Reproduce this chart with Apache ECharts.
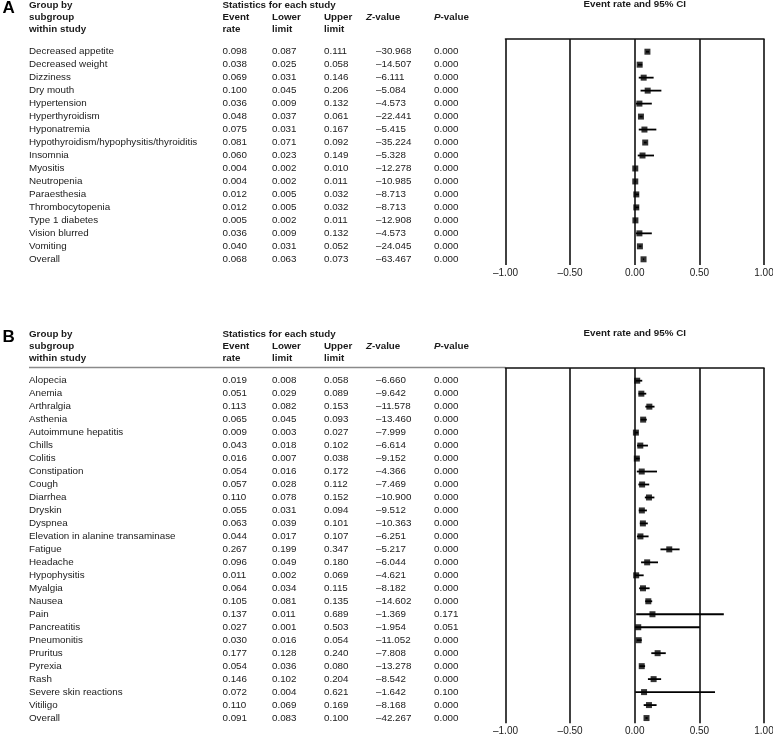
<!DOCTYPE html>
<html><head><meta charset="utf-8">
<script src="https://cdn.jsdelivr.net/npm/echarts@6/dist/echarts.min.js"></script>
<style>html,body{margin:0;padding:0;background:#fff}#c{width:773px;height:737px}</style>
</head><body><div id="c"></div>
<script>
// ---------- Data: panel A ----------
const namesA = ['Decreased appetite','Decreased weight','Dizziness','Dry mouth','Hypertension','Hyperthyroidism','Hyponatremia','Hypothyroidism/hypophysitis/thyroiditis','Insomnia','Myositis','Neutropenia','Paraesthesia','Thrombocytopenia','Type 1 diabetes','Vision blurred','Vomiting','Overall'];
const rateA  = [0.098,0.038,0.069,0.100,0.036,0.048,0.075,0.081,0.060,0.004,0.004,0.012,0.012,0.005,0.036,0.040,0.068];
const lowerA = [0.087,0.025,0.031,0.045,0.009,0.037,0.031,0.071,0.023,0.002,0.002,0.005,0.005,0.002,0.009,0.031,0.063];
const upperA = [0.111,0.058,0.146,0.206,0.132,0.061,0.167,0.092,0.149,0.010,0.011,0.032,0.032,0.011,0.132,0.052,0.073];
const zA     = [-30.968,-14.507,-6.111,-5.084,-4.573,-22.441,-5.415,-35.224,-5.328,-12.278,-10.985,-8.713,-8.713,-12.908,-4.573,-24.045,-63.467];
const pA     = [0.000,0.000,0.000,0.000,0.000,0.000,0.000,0.000,0.000,0.000,0.000,0.000,0.000,0.000,0.000,0.000,0.000];

// ---------- Data: panel B ----------
const namesB = ['Alopecia','Anemia','Arthralgia','Asthenia','Autoimmune hepatitis','Chills','Colitis','Constipation','Cough','Diarrhea','Dryskin','Dyspnea','Elevation in alanine transaminase','Fatigue','Headache','Hypophysitis','Myalgia','Nausea','Pain','Pancreatitis','Pneumonitis','Pruritus','Pyrexia','Rash','Severe skin reactions','Vitiligo','Overall'];
const rateB  = [0.019,0.051,0.113,0.065,0.009,0.043,0.016,0.054,0.057,0.110,0.055,0.063,0.044,0.267,0.096,0.011,0.064,0.105,0.137,0.027,0.030,0.177,0.054,0.146,0.072,0.110,0.091];
const lowerB = [0.008,0.029,0.082,0.045,0.003,0.018,0.007,0.016,0.028,0.078,0.031,0.039,0.017,0.199,0.049,0.002,0.034,0.081,0.011,0.001,0.016,0.128,0.036,0.102,0.004,0.069,0.083];
const upperB = [0.058,0.089,0.153,0.093,0.027,0.102,0.038,0.172,0.112,0.152,0.094,0.101,0.107,0.347,0.180,0.069,0.115,0.135,0.689,0.503,0.054,0.240,0.080,0.204,0.621,0.169,0.100];
const zB     = [-6.660,-9.642,-11.578,-13.460,-7.999,-6.614,-9.152,-4.366,-7.469,-10.900,-9.512,-10.363,-6.251,-5.217,-6.044,-4.621,-8.182,-14.602,-1.369,-1.954,-11.052,-7.808,-13.278,-8.542,-1.642,-8.168,-42.267];
const pB     = [0.000,0.000,0.000,0.000,0.000,0.000,0.000,0.000,0.000,0.000,0.000,0.000,0.000,0.000,0.000,0.000,0.000,0.000,0.171,0.051,0.000,0.000,0.000,0.000,0.100,0.000,0.000];

const xTicks = {min:-1, max:1, interval:0.5};

// ---------- Layout ----------
const STEP = 12.975;
const PLOT_L = 505.5, PLOT_R = 9;
const COLS = {name:29, rate:222.5, lower:272, upper:324, z:376, p:434};
const panels = [
  {letter:'A', names:namesA, rate:rateA, lower:lowerA, upper:upperA, z:zA, p:pA, firstRow:51.7, boxTop:39, boxBottom:265, grey:false},
  {letter:'B', names:namesB, rate:rateB, lower:lowerB, upper:upperB, z:zB, p:pB, firstRow:380.7, boxTop:368, boxBottom:723.3, grey:true}
];
const FONT = '"Liberation Sans", Arial, sans-serif';
const TXT = '#1a1a1a';
const fmt3 = v => v.toFixed(3);
const fmtZ = v => (v < 0 ? '\u2013' : '') + Math.abs(v).toFixed(3);

const grid = [], xAxis = [], yAxis = [], series = [], graphic = [];

panels.forEach((P, k) => {
  const n = P.names.length;
  const lastRow = P.firstRow + (n - 1) * STEP;
  // plot grid
  const gPlot = grid.length;
  grid.push({left: PLOT_L, right: PLOT_R, top: P.boxTop, height: P.boxBottom - P.boxTop, containLabel:false, outerBoundsMode:'none'});
  // table grid (rows as bands)
  const gTab = grid.length;
  grid.push({left: PLOT_L, right: PLOT_R, top: P.firstRow - STEP/2, height: n * STEP, containLabel:false, outerBoundsMode:'none'});

  const xBottom = xAxis.length;
  xAxis.push({gridIndex: gPlot, type:'value', min:xTicks.min, max:xTicks.max, interval:xTicks.interval, position:'bottom',
    axisLine:{show:false}, axisTick:{show:false},
    splitLine:{show:true, lineStyle:{color:'#111', width:1.6}},
    axisLabel:{margin:3, fontSize:10, fontFamily:FONT, color:TXT,
      formatter: v => (v < 0 ? '\u2013' : '') + Math.abs(v).toFixed(2)}});
  xAxis.push({gridIndex: gPlot, type:'value', min:xTicks.min, max:xTicks.max, position:'top',
    axisLine:{show:true, onZero:false, lineStyle:{color:'#111', width:1.6}}, axisTick:{show:false}, axisLabel:{show:false}, splitLine:{show:false}});
  xAxis.push({gridIndex: gTab, type:'value', show:false});

  const yPlot = yAxis.length;
  yAxis.push({gridIndex: gPlot, type:'value', inverse:true, show:false,
    min: -(P.firstRow - P.boxTop) / STEP, max: (n - 1) + (P.boxBottom - lastRow) / STEP,
    splitLine:{show:false}});

  const colDefs = [
    ['name', P.names.map(s => s)],
    ['rate', P.rate.map(fmt3)],
    ['lower', P.lower.map(fmt3)],
    ['upper', P.upper.map(fmt3)],
    ['z', P.z.map(fmtZ)],
    ['p', P.p.map(fmt3)]
  ];
  colDefs.forEach(([key, arr]) => {
    yAxis.push({gridIndex: gTab, type:'category', data: arr, inverse:true, position:'left',
      offset: PLOT_L - COLS[key], boundaryGap:true,
      axisLine:{show:false}, axisTick:{show:false}, splitLine:{show:false},
      axisLabel:{interval:0, margin:0, align:'left', fontSize:9.8, fontFamily:FONT, color:TXT}});
  });

  // CI lines
  series.push({type:'custom', xAxisIndex: xBottom, yAxisIndex: yPlot, clip:false,
    data: P.lower.map((lo, i) => [lo, P.upper[i], i]),
    encode:{x:[0,1], y:2},
    renderItem: (params, api) => {
      const a = api.coord([api.value(0), api.value(2)]);
      const b = api.coord([api.value(1), api.value(2)]);
      return {type:'line', shape:{x1:a[0], y1:a[1], x2:b[0], y2:b[1]}, style:{stroke:'#000', lineWidth:1.8}};
    }, silent:true, z:3});
  // point estimates
  series.push({type:'scatter', xAxisIndex: xBottom, yAxisIndex: yPlot, symbol:'rect', symbolSize:6,
    itemStyle:{color:'#000'}, data: P.rate.map((r, i) => [r, i]), silent:true, z:4});

  // headers
  const T = P.boxTop;
  const hb = (text, x, y, opts) => graphic.push(Object.assign({type:'text', x, y,
    style:{text, fill:TXT, font:'bold 9.8px ' + FONT, textVerticalAlign:'middle', textAlign:'left'}}, opts || {}));
  graphic.push({type:'text', x:2.5, y:T - 30.5, style:{text:P.letter, fill:'#000', font:'bold 17px ' + FONT, textVerticalAlign:'middle'}});
  hb('Group by', COLS.name, T - 33.5);
  hb('subgroup', COLS.name, T - 21.5);
  hb('within study', COLS.name, T - 9.5);
  hb('Statistics for each study', COLS.rate, T - 33.5);
  hb('Event', COLS.rate, T - 21.5);
  hb('rate', COLS.rate, T - 9.5);
  hb('Lower', COLS.lower, T - 21.5);
  hb('limit', COLS.lower, T - 9.5);
  hb('Upper', COLS.upper, T - 21.5);
  hb('limit', COLS.upper, T - 9.5);
  graphic.push({type:'text', x:366, y:T - 21.5, style:{text:'{i|Z}-value', fill:TXT, font:'bold 9.8px ' + FONT, textVerticalAlign:'middle',
    rich:{i:{fontStyle:'italic', fontWeight:'bold', fontSize:9.8, fontFamily:FONT, fill:TXT}}}});
  graphic.push({type:'text', x:COLS.p, y:T - 21.5, style:{text:'{i|P}-value', fill:TXT, font:'bold 9.8px ' + FONT, textVerticalAlign:'middle',
    rich:{i:{fontStyle:'italic', fontWeight:'bold', fontSize:9.8, fontFamily:FONT, fill:TXT}}}});
  graphic.push({type:'text', x:(PLOT_L + 773 - PLOT_R)/2, y:T - 34.5, style:{text:'Event rate and 95% CI', fill:TXT, font:'bold 9.8px ' + FONT, textVerticalAlign:'middle', textAlign:'center'}});
  if (P.grey) {
    graphic.push({type:'line', shape:{x1:COLS.name, y1:T - 0.5, x2:PLOT_L, y2:T - 0.5}, style:{stroke:'#8a8a8a', lineWidth:1.5}});
  }
});

const chart = echarts.init(document.getElementById('c'), null, {renderer:'canvas'});
chart.setOption({animation:false, backgroundColor:'#fff', grid, xAxis, yAxis, series, graphic});
</script></body></html>
